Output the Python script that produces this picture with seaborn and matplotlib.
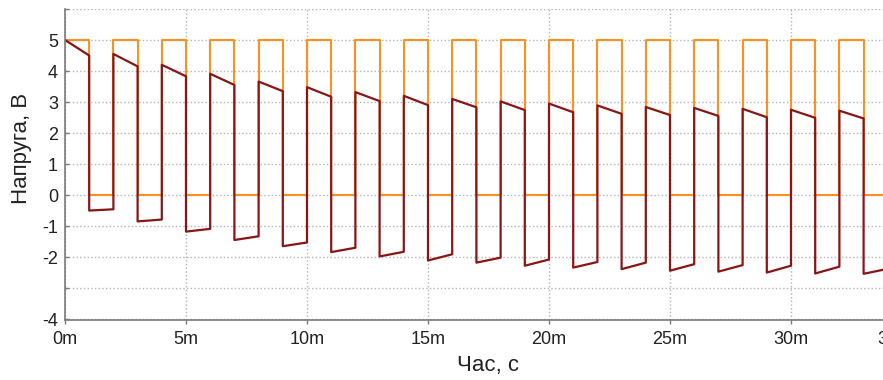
import numpy as np
import pandas as pd
import seaborn as sns
import matplotlib.pyplot as plt

# Transition times of the square wave (ms)
edge_t = [0, 1, 2, 3, 4, 5, 6, 7, 8, 9, 10, 11, 12, 13, 14, 15, 16, 17,
          18, 19, 20, 21, 22, 23, 24, 25, 26, 27, 28, 29, 30, 31, 32, 33, 34]

# Input square wave levels (V)
sq_high = 5.0
sq_low = 0.0

# Output (RC) voltage at start / end of each half period
high_start = [5.00, 4.55, 4.20, 3.91, 3.66, 3.48, 3.32, 3.20, 3.10, 3.02, 2.95,
              2.89, 2.84, 2.81, 2.78, 2.75, 2.72]
high_end = [4.50, 4.15, 3.83, 3.55, 3.35, 3.17, 3.03, 2.90, 2.83, 2.74, 2.67,
            2.62, 2.58, 2.55, 2.51, 2.49, 2.47]
low_start = [-0.50, -0.85, -1.18, -1.45, -1.65, -1.84, -1.98, -2.11, -2.18, -2.28,
             -2.34, -2.39, -2.44, -2.47, -2.50, -2.53, -2.54]
low_end = [-0.46, -0.79, -1.09, -1.33, -1.53, -1.70, -1.83, -1.91, -2.02, -2.08,
           -2.16, -2.18, -2.23, -2.26, -2.28, -2.31, -2.38]

x_ticks = [0, 5, 10, 15, 20, 25, 30, 35]
x_labels = ['0m', '5m', '10m', '15m', '20m', '25m', '30m', '35m']
y_ticks = [-4, -3, -2, -1, 0, 1, 2, 3, 4, 5, 6]
y_labels = ['-4', '', '-2', '-1', '0', '1', '2', '3', '4', '5', '']

# build step paths
t_in, v_in, t_out, v_out = [], [], [], []
for i in range(len(high_start)):
    t0, t1, t2 = edge_t[2 * i], edge_t[2 * i + 1], edge_t[2 * i + 2]
    t_in += [t0, t1, t1, t2]
    v_in += [sq_high, sq_high, sq_low, sq_low]
    t_out += [t0, t1, t1, t2]
    v_out += [high_start[i], high_end[i], low_start[i], low_end[i]]
df_in = pd.DataFrame({'t': t_in, 'v': v_in})
df_out = pd.DataFrame({'t': t_out, 'v': v_out})

sns.set_theme(style='white')
plt.rcParams['font.family'] = ['Liberation Sans', 'DejaVu Sans']

fig = plt.figure(figsize=(8.83, 3.80), dpi=100)
# axes runs to 35 ms, past the right edge of the picture (cropped like the original)
ax = fig.add_axes([65 / 883, 1 - 320 / 380, (912 - 65) / 883, (320 - 9) / 380])

sns.lineplot(data=df_in, x='t', y='v', estimator=None, sort=False,
             color='#ff8f1f', lw=1.5, ax=ax)
sns.lineplot(data=df_out, x='t', y='v', estimator=None, sort=False,
             color='#8a1515', lw=1.6, ax=ax)

ax.set_xlim(0, 35)
ax.set_ylim(-4.03, 6.0)
ax.set_xticks(x_ticks)
ax.set_xticklabels(x_labels)
ax.set_yticks(y_ticks)
ax.set_yticklabels(y_labels)
ax.get_xticklabels()[-1].set_ha('right')

ax.grid(True, linestyle=':', color='#b4b4b4', lw=1)
ax.set_axisbelow(True)
for s in ['top', 'right']:
    ax.spines[s].set_visible(False)
for s in ['left', 'bottom']:
    ax.spines[s].set_color('#7a7a7a')
    ax.spines[s].set_linewidth(1.2)
ax.tick_params(axis='both', which='major', length=3, width=1, color='#7a7a7a',
               labelsize=13, labelcolor='#222222', bottom=True, left=True)
ax.tick_params(axis='x', pad=5)
ax.tick_params(axis='y', direction='in', pad=5)

ax.set_xlabel('Час, с', fontsize=16, color='#222222', labelpad=5)
ax.set_ylabel('Напруга, В', fontsize=16, color='#222222')
ax.yaxis.set_label_coords(-0.039, 0.551)

fig.savefig('out.png', dpi=100)
